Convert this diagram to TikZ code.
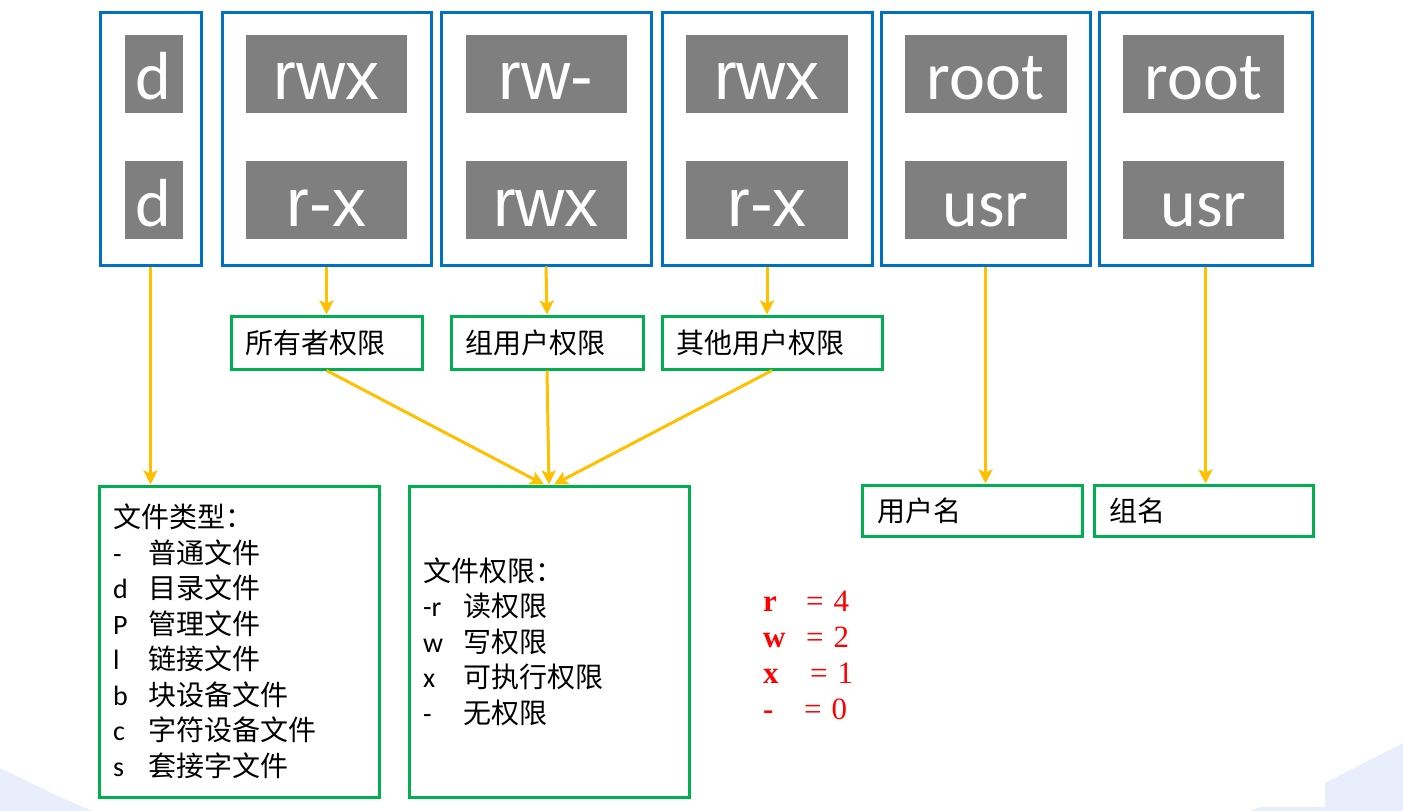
\documentclass[tikz,border=0pt]{standalone}
\usepackage{fontspec}
\setmainfont{Carlito}
\newfontfamily\zhfont{Noto Sans CJK SC}
\newfontfamily\arialfont{Liberation Sans}
\newfontfamily\timesfont{Liberation Serif}
\usetikzlibrary{arrows.meta,positioning}
\definecolor{permBlue}{HTML}{0070C0}
\definecolor{boxGreen}{HTML}{00B050}
\definecolor{arrOrange}{HTML}{FFC000}
\definecolor{tagGray}{HTML}{7F7F7F}
\definecolor{slideBlue}{HTML}{E8EEFB}
\definecolor{txtRed}{HTML}{FF0000}
\newcommand{\zh}[1]{{\zhfont #1}}

\begin{document}
\begin{tikzpicture}[
  x=1pt,y=-1pt,
  font=\fontsize{28pt}{35.5pt}\selectfont,
  field/.style={draw=permBlue,line width=3pt,minimum height=253pt,inner sep=0pt},
  tag/.style={fill=tagGray,text=white,inner sep=0pt,minimum height=78pt,
    text height=52pt,text depth=0pt,font=\fontsize{68pt}{68pt}\selectfont},
  rtag/.style={tag,font=\fontsize{68pt}{68pt}\selectfont\arialfont},
  gbox/.style={draw=boxGreen,line width=3pt,inner xsep=14pt,inner ysep=0pt,align=left,text=black},
  arr/.style={-{Stealth[length=14pt,width=14pt,inset=3pt]},line width=3pt,draw=arrOrange}
]
% slide background
\useasboundingbox (0,0) rectangle (1403,811);
\fill[white] (0,0) rectangle (1403,811);
\fill[slideBlue] (0,768) -- (60,797) -- (92,811) -- (0,811) -- cycle;
\fill[slideBlue] (1403,743) -- (1325,783) -- (1325,807) -- (1260,807) -- (1250,811) -- (1403,811) -- cycle;

% the ten characters of ls -l
\node[field,minimum width=101pt] (b1) at (150.5,138.5) {};
\node[field,minimum width=209pt] (b2) at (326.5,138.5) {};
\node[field,minimum width=210pt] (b3) at (546,138.5) {};
\node[field,minimum width=210pt] (b4) at (767,138.5) {};
\node[field,minimum width=209pt] (b5) at (985.5,138.5) {};
\node[field,minimum width=213pt] (b6) at (1205.5,138.5) {};

\node[tag,minimum width=58pt,below=24pt of b1.north,xshift=3pt] (t1) {d};
\node[tag,minimum width=58pt,below=48pt of t1] (t1b) {d};
\node[rtag,minimum width=161pt,below=24pt of b2.north] (t2) {rwx};
\node[rtag,minimum width=161pt,below=48pt of t2] (t2b) {r-x};
\node[rtag,minimum width=161pt,below=24pt of b3.north] (t3) {rw-};
\node[rtag,minimum width=161pt,below=48pt of t3] (t3b) {rwx};
\node[rtag,minimum width=162pt,below=24pt of b4.north] (t4) {rwx};
\node[rtag,minimum width=162pt,below=48pt of t4] (t4b) {r-x};
\node[tag,minimum width=162pt,below=24pt of b5.north] (t5) {root};
\node[tag,minimum width=162pt,below=48pt of t5] (t5b) {usr};
\node[tag,minimum width=161pt,below=24pt of b6.north,xshift=-2pt] (t6) {root};
\node[tag,minimum width=161pt,below=48pt of t6] (t6b) {usr};

% what they mean
\node[gbox,text width=163pt,minimum height=53pt] (own) at (326.5,342.5) {\zh{所有者权限}};
\node[gbox,text width=164pt,minimum height=53pt] (grp) at (547,342.5) {\zh{组用户权限}};
\node[gbox,text width=192pt,minimum height=53pt] (oth) at (772,342.5) {\zh{其他用户权限}};

\node[gbox,text width=252pt,minimum height=311pt] (ftype) at (239,641.5) {%
  \zh{文件类型：}\\
  \makebox[35pt][l]{-}\zh{普通文件}\\
  \makebox[35pt][l]{d}\zh{目录文件}\\
  \makebox[35pt][l]{P}\zh{管理文件}\\
  \makebox[35pt][l]{l}\zh{链接文件}\\
  \makebox[35pt][l]{b}\zh{块设备文件}\\
  \makebox[35pt][l]{c}\zh{字符设备文件}\\
  \makebox[35pt][l]{s}\zh{套接字文件}};
\node[gbox,text width=252pt,minimum height=311pt] (fperm) at (549,641.5) {%
  \zh{文件权限：}\\
  \makebox[40pt][l]{-r}\zh{读权限}\\
  \makebox[40pt][l]{w}\zh{写权限}\\
  \makebox[40pt][l]{x}\zh{可执行权限}\\
  \makebox[40pt][l]{-}\zh{无权限}};
\node[gbox,text width=190pt,inner xsep=15pt,minimum height=51pt] (uname) at (972,510.5) {\zh{用户名}};
\node[gbox,text width=189pt,inner xsep=15pt,minimum height=51pt] (gname) at (1203.5,510.5) {\zh{组名}};

% weights
\node[font=\fontsize{31pt}{36pt}\selectfont\timesfont,text=txtRed,align=left,inner sep=0pt,anchor=west] (vals) at (763,655) {%
  \makebox[43pt][l]{\textbf{r}}=\hspace{10pt}4\\
  \makebox[43pt][l]{\textbf{w}}=\hspace{10pt}2\\
  \makebox[47pt][l]{\textbf{x}}=\hspace{10pt}1\\
  \makebox[41pt][l]{\textbf{-}}=\hspace{10pt}0};

\draw[arr] (b1.south) -- (b1.south |- ftype.north);
\draw[arr] (b2.south) -- (own.north);
\draw[arr] (b3.south) -- (grp.north);
\draw[arr] (b4.south) -- (b4.south |- oth.north);
\draw[arr] (own.south) -- ([xshift=-5pt]fperm.north);
\draw[arr] (grp.south) -- (fperm.north);
\draw[arr] (oth.south) -- ([xshift=5pt]fperm.north);
\draw[arr] (b5.south) -- (b5.south |- uname.north);
\draw[arr] (b6.south) -- (b6.south |- gname.north);
\end{tikzpicture}
\end{document}
